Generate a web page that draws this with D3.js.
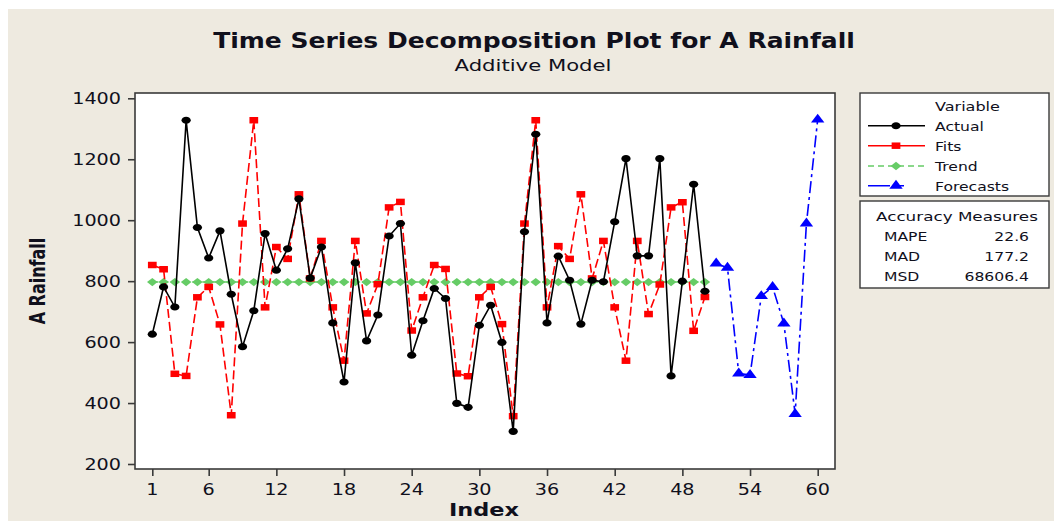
<!DOCTYPE html>
<html>
<head>
<meta charset="utf-8">
<script src="https://cdn.jsdelivr.net/npm/d3@7"></script>
<style>
  html, body { margin: 0; padding: 0; background: #fff; }
  svg { display: block; }
</style>
</head>
<body>
<svg id="chart" width="1054" height="521"></svg>
<script>
// Time series decomposition (additive) — actual / fits / trend / forecasts

const idxActual = d3.range(1, 51);
const idxForecast = d3.range(51, 61);

const actual = [626, 781, 715, 1328, 976, 876, 965, 757, 585, 703,
                956, 836, 906, 1070, 810, 912, 663, 469, 860, 604,
                689, 948, 989, 557, 670, 776, 743, 399, 386, 655,
                721, 599, 307, 962, 1282, 663, 882, 803, 659, 803,
                798, 995, 1202, 883, 883, 1202, 489, 800, 1118, 767];

const fits = [853, 839, 496, 489, 747, 781, 658, 360, 989, 1328,
              714, 912, 873, 1085, 809, 932, 714, 539, 932, 694,
              790, 1042, 1060, 638, 747, 853, 840, 497, 488, 747,
              781, 659, 357, 989, 1328, 714, 915, 873, 1085, 809,
              932, 714, 539, 932, 692, 789, 1042, 1059, 637, 748];

const trend = [797, 797, 797, 797, 797, 797, 797, 797, 797, 797,
               797, 797, 797, 797, 797, 797, 797, 797, 797, 797,
               797, 797, 797, 797, 797, 797, 797, 797, 797, 797,
               797, 797, 797, 797, 797, 797, 797, 797, 797, 797,
               797, 797, 797, 797, 797, 797, 797, 797, 797, 797];

const forecasts = [858, 844, 497, 492, 751, 781, 661, 364, 989, 1330];

const xTicks = [1, 6, 12, 18, 24, 30, 36, 42, 48, 54, 60];
const yTicks = [200, 400, 600, 800, 1000, 1200, 1400];

const accuracy = [
  { name: 'MAPE', value: '22.6' },
  { name: 'MAD', value: '177.2' },
  { name: 'MSD', value: '68606.4' },
];

const series = [
  { name: 'Actual',    idx: idxActual,   vals: actual,    color: '#000000', dash: null,        sym: d3.symbolCircle,   size: 40, sx: 1.3 },
  { name: 'Fits',      idx: idxActual,   vals: fits,      color: '#ff0000', dash: '9,4',       sym: d3.symbolSquare,   size: 42, sx: 1.35 },
  { name: 'Trend',     idx: idxActual,   vals: trend,     color: '#66cc66', dash: '6,4',       sym: d3.symbolDiamond,  size: 20, sx: 2.2 },
  { name: 'Forecasts', idx: idxForecast, vals: forecasts, color: '#0000ff', dash: '12,4,3,4',  sym: d3.symbolTriangle, size: 46, sx: 1.3 },
];

const palette = {
  bg: '#eeeae0',
  text: '#10101c',
  frame: '#3a3a3a',
  font: '"DejaVu Sans", Verdana, sans-serif',
};
const SX = 1.2;   // the picture is stretched sideways a little

const svg = d3.select('#chart');

// text helper: anchored group, stretched sideways; optional target width
function label(parent, x, y, str, o = {}) {
  const g = parent.append('g');
  const t = g.append('text')
    .style('font-family', palette.font)
    .style('font-size', `${o.size || 14}px`)
    .style('font-weight', o.weight || 'normal')
    .style('fill', palette.text)
    .attr('text-anchor', o.anchor || 'start')
    .attr('dy', o.dy || null)
    .text(str);
  let k = o.sx || SX;
  if (o.w) k = o.w / t.node().getComputedTextLength();
  g.attr('transform', `translate(${x},${y}) scale(${k},1)`);
  return t;
}

// background
svg.append('rect')
  .attr('x', 8).attr('y', 9).attr('width', 1046).attr('height', 512)
  .style('fill', palette.bg);

// plot frame
const F = { x0: 135, x1: 835, y0: 93, y1: 469 };
const x = d3.scaleLinear().domain([1, 60]).range([152.3, 817.7]);
const y = d3.scaleLinear().domain([200, 1400]).range([464, 98.3]);

svg.append('rect')
  .attr('x', F.x0).attr('y', F.y0)
  .attr('width', F.x1 - F.x0).attr('height', F.y1 - F.y0)
  .style('fill', '#fff').style('stroke', palette.frame).style('stroke-width', 1.6);

// axes
const yAxis = svg.append('g')
  .attr('transform', `translate(${F.x0},0)`)
  .call(d3.axisLeft(y).tickValues(yTicks).tickSize(7).tickFormat(''));
const xAxis = svg.append('g')
  .attr('transform', `translate(0,${F.y1})`)
  .call(d3.axisBottom(x).tickValues(xTicks).tickSize(7).tickFormat(''));
[yAxis, xAxis].forEach(a => {
  a.select('.domain').remove();
  a.selectAll('line').style('stroke', palette.frame).style('stroke-width', 1.6);
});

yTicks.forEach(v => label(svg, 121, y(v), String(v), { size: 16, anchor: 'end', dy: '0.36em' }));
xTicks.forEach(v => label(svg, x(v), 495, String(v), { size: 16, anchor: 'middle' }));

// titles
label(svg, 534, 48, 'Time Series Decomposition Plot for A Rainfall', { size: 22, weight: 'bold', anchor: 'middle', w: 642 });
label(svg, 533, 71, 'Additive Model', { size: 15, anchor: 'middle', w: 157 });
label(svg, 484, 516, 'Index', { size: 17, weight: 'bold', anchor: 'middle', w: 70 });

const yl = svg.append('g').attr('transform', 'translate(45,281) scale(1.35,1) rotate(-90)');
yl.append('text')
  .style('font-family', palette.font).style('font-size', '16px').style('font-weight', 'bold')
  .style('fill', palette.text)
  .attr('text-anchor', 'middle')
  .text('A Rainfall');

// lines + markers
const line = d3.line().x(d => x(d[0])).y(d => y(d[1]));
const plotG = svg.append('g');

function marker(parent, s, cx, cy) {
  parent.append('path')
    .attr('d', d3.symbol().type(s.sym).size(s.size)())
    .attr('transform', `translate(${cx},${cy}) scale(${s.sx},1)`)
    .style('fill', s.color);
}

// draw order: trend under fits under actual, forecasts on their own
[series[2], series[1], series[0], series[3]].forEach(s => {
  const pts = s.idx.map((i, k) => [i, s.vals[k]]);
  plotG.append('path')
    .attr('d', line(pts))
    .style('fill', 'none')
    .style('stroke', s.color)
    .style('stroke-width', 1.6)
    .style('stroke-dasharray', s.dash);
  pts.forEach(p => marker(plotG, s, x(p[0]), y(p[1])));
});

// legend: variables
const L = svg.append('g');
L.append('rect')
  .attr('x', 860).attr('y', 93).attr('width', 189).attr('height', 103)
  .style('fill', '#fff').style('stroke', palette.frame).style('stroke-width', 1.4);
label(L, 935, 111, 'Variable', { size: 13, w: 65 });

const rowY = [125.7, 145.7, 166, 185.7];
series.forEach((s, i) => {
  const ry = rowY[i];
  L.append('line')
    .attr('x1', 868).attr('x2', 925).attr('y1', ry).attr('y2', ry)
    .style('stroke', s.color).style('stroke-width', 1.4)
    .style('stroke-dasharray', s.name === 'Trend' ? '6,4' : (s.name === 'Forecasts' ? '22,8,6,100' : null));
  marker(L, s, 896, ry);
  label(L, 935, ry + 5.3, s.name, { size: 13 });
});

// legend: accuracy measures
L.append('rect')
  .attr('x', 860).attr('y', 201).attr('width', 189).attr('height', 87)
  .style('fill', '#fff').style('stroke', palette.frame).style('stroke-width', 1.4);
label(L, 876, 221, 'Accuracy Measures', { size: 13, w: 162 });
accuracy.forEach((a, i) => {
  label(L, 884, 241 + i * 20, a.name, { size: 13 });
  label(L, 1029, 241 + i * 20, a.value, { size: 13, anchor: 'end' });
});
</script>
</body>
</html>
